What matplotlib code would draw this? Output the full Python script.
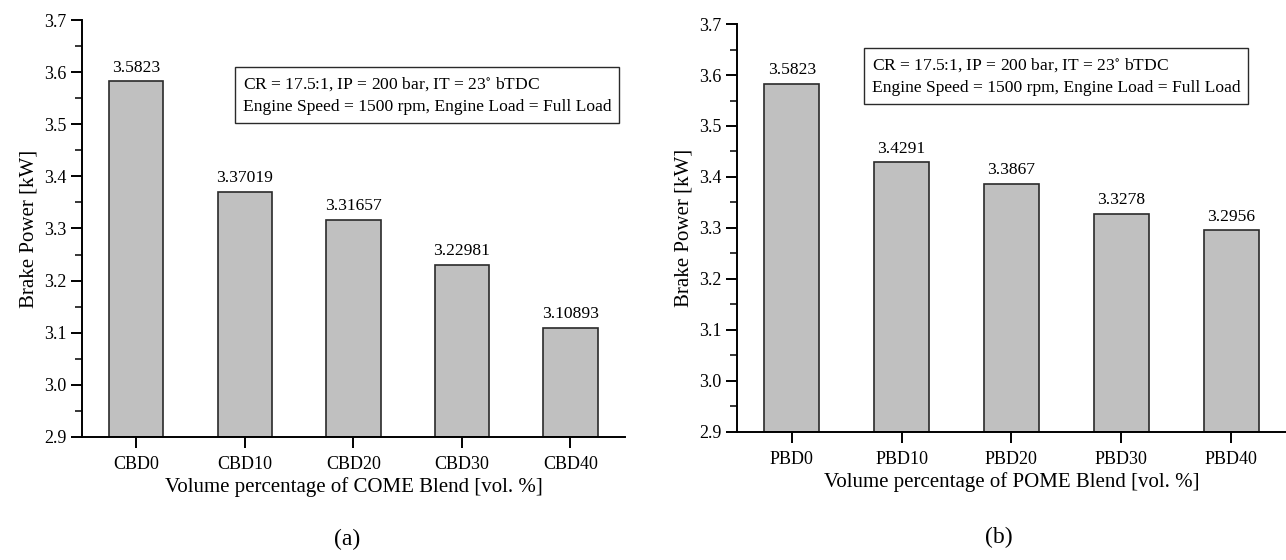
import matplotlib
matplotlib.use("Agg")
import matplotlib.pyplot as plt
from matplotlib.ticker import MultipleLocator

plt.rcParams['font.family'] = ['Liberation Serif', 'DejaVu Serif']
plt.rcParams['mathtext.fontset'] = 'stix'

# Brake power at full load for the two biodiesel blend series
come_blends = ["CBD0", "CBD10", "CBD20", "CBD30", "CBD40"]
come_power = [3.5823, 3.37019, 3.31657, 3.22981, 3.10893]
come_labels = ["3.5823", "3.37019", "3.31657", "3.22981", "3.10893"]

pome_blends = ["PBD0", "PBD10", "PBD20", "PBD30", "PBD40"]
pome_power = [3.5823, 3.4291, 3.3867, 3.3278, 3.2956]
pome_labels = ["3.5823", "3.4291", "3.3867", "3.3278", "3.2956"]

conditions = ("CR = 17.5:1, IP = 200 bar, IT = 23$^{\\circ}$ bTDC\n"
              "Engine Speed = 1500 rpm, Engine Load = Full Load")

fig = plt.figure(figsize=(12.86, 5.6), dpi=100)
ax1 = fig.add_axes([0.0638, 0.220, 0.422, 0.744])
ax2 = fig.add_axes([0.573, 0.229, 0.427, 0.728])


def draw_panel(ax, blends, power, labels, xlabel, box_xy):
    x = list(range(len(blends)))
    ax.bar(x, [p - 2.9 for p in power], bottom=2.9, width=0.5,
           color="#c0c0c0", edgecolor="#2a2a2a", linewidth=1.2)
    for xi, p, s in zip(x, power, labels):
        ax.text(xi, p + 0.011, s, ha="center", va="bottom", fontsize=12.6)
    ax.set_xlim(-0.5, 4.5)
    ax.set_ylim(2.9, 3.7)
    ax.set_xticks(x)
    ax.set_xticklabels(blends)
    ax.yaxis.set_major_locator(MultipleLocator(0.1))
    ax.yaxis.set_minor_locator(MultipleLocator(0.05))
    ax.yaxis.set_major_formatter(plt.FormatStrFormatter('%.1f'))
    ax.tick_params(axis="both", direction="out", labelsize=13, length=8, width=1.4)
    ax.tick_params(axis="y", which="minor", direction="out", length=5, width=1.1)
    ax.tick_params(axis="x", pad=6)
    ax.tick_params(axis="y", pad=3)
    for side in ("top", "right"):
        ax.spines[side].set_visible(False)
    for side in ("left", "bottom"):
        ax.spines[side].set_linewidth(1.4)
    ax.set_ylabel("Brake Power [kW]", fontsize=15, labelpad=4)
    ax.set_xlabel(xlabel, fontsize=15, labelpad=3)
    ax.text(box_xy[0], box_xy[1], conditions, transform=ax.transAxes,
            ha="left", va="top", fontsize=12.6, linespacing=1.55,
            bbox=dict(boxstyle="square,pad=0.45", facecolor="white",
                      edgecolor="#2a2a2a", linewidth=1.0))


draw_panel(ax1, come_blends, come_power, come_labels,
           "Volume percentage of COME Blend [vol. %]", (0.296, 0.868))
draw_panel(ax2, pome_blends, pome_power, pome_labels,
           "Volume percentage of POME Blend [vol. %]", (0.246, 0.922))

fig.text(0.27, 0.036, "(a)", ha="center", va="center", fontsize=17)
fig.text(0.777, 0.04, "(b)", ha="center", va="center", fontsize=17)

fig.savefig("out.png", dpi=100)
